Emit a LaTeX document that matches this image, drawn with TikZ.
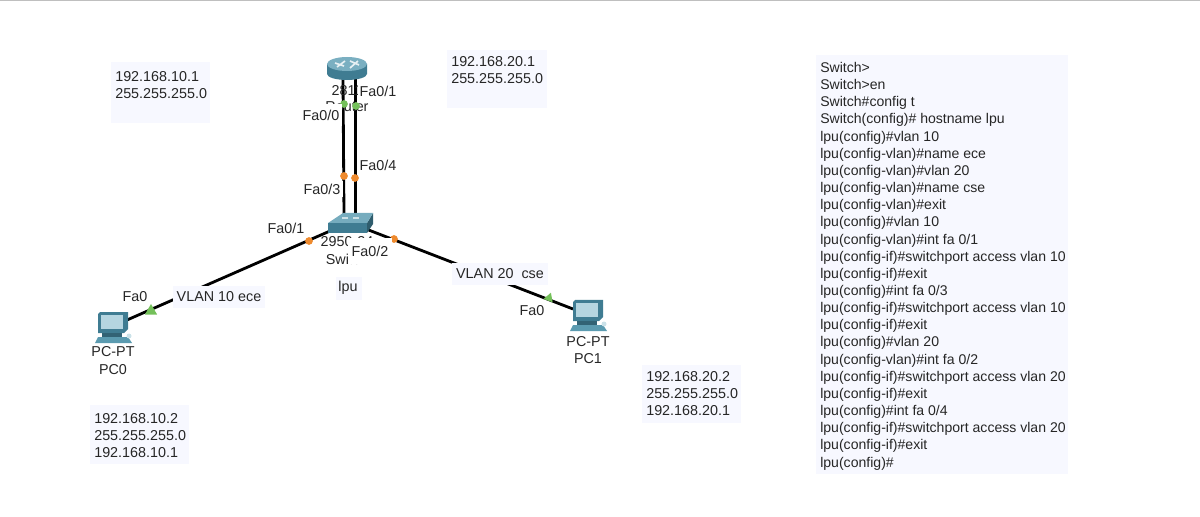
\documentclass[tikz,border=0pt]{standalone}
\usepackage{fontspec}
\setmainfont{Liberation Sans}
\usetikzlibrary{shapes.geometric}
\definecolor{panelblue}{HTML}{F7F8FF}
\definecolor{txtgrey}{HTML}{262626}
\definecolor{iconblue}{HTML}{5B9BB0}
\definecolor{icondark}{HTML}{3F7C92}
\definecolor{iconlight}{HTML}{B5D5E0}
\definecolor{portorange}{HTML}{EE8A2E}
\definecolor{portgreen}{HTML}{74C05A}
\tikzset{
  pc icon/.pic={
    \fill[icondark] (2,0) -- (30,0) -- (30,17) -- (26,21) -- (0,21) -- (0,2) -- cycle;
    \fill[iconlight] (3,3) rectangle (25,17);
    \fill[icondark!80!black] (4,21) rectangle (24,25);
    \fill[iconblue] (0,25) -- (30,25) -- (34,31) -- (-3,31) -- cycle;
    \fill[iconlight!70] (31,24) circle (2.5);
  },
  router icon/.pic={
    \fill[icondark] (-20,-4) -- (20,-4) -- (20,6) arc[start angle=0,end angle=180,x radius=20,y radius=6] -- cycle;
    \fill[iconblue!65!iconlight] (0,-4) ellipse[x radius=20,y radius=7];
    \draw[white!85!iconblue,line width=1.2] (-12,-5) -- (-3,-2) (3,-7) -- (12,-3) (-10,-1) -- (-2,-7) (3,0) -- (11,-7);
  },
  switch icon/.pic={
    \fill[icondark] (0,0) rectangle (39,10);
    \fill[icondark!75!black] (39,0) -- (45,-10) -- (45,1) -- (39,10) -- cycle;
    \fill[iconblue!70!iconlight] (0,0) -- (15,-10) -- (45,-10) -- (39,0) -- cycle;
    \draw[white!70!iconblue,line width=.8] (14,-5) -- (20,-5) (25,-5) -- (31,-5);
  }
}
\begin{document}
\begin{tikzpicture}[x=0.025cm,y=-0.025cm,
    font=\fontsize{10.2pt}{12.2pt}\selectfont,
    lbl/.style={text=txtgrey, inner sep=1pt},
    port lbl/.style={lbl, fill=white, inner sep=2pt},
    vlan lbl/.style={lbl, fill=panelblue, inner xsep=3pt, inner ysep=4pt},
    note/.style={lbl, anchor=north west, align=left, inner sep=0pt},
    panel/.style={fill=panelblue},
    link/.style={draw=black, line width=2pt},
    port dot/.style={circle, fill=#1, inner sep=0pt, minimum size=5.5pt},
    port tri/.style={regular polygon, regular polygon sides=3, fill=portgreen, inner sep=0pt, minimum size=#1}]
  \useasboundingbox (0,0) rectangle (1200,517);
  \draw[black!25] (0,0.5) -- (1200,0.5);

  % address panels
  \fill[panel] (111,62) rectangle (210,123);
  \fill[panel] (447,50) rectangle (547,108);
  \fill[panel] (90,405) rectangle (189,464);
  \fill[panel] (642,365) rectangle (741,423);
  \fill[panel] (816,55) rectangle (1068,474);
  \fill[panel] (336,277) rectangle (362,300);

  % ports
  \coordinate (r0) at (343,78);
  \coordinate (r1) at (355.5,78);
  \coordinate (s3) at (344,216);
  \coordinate (s4) at (355.5,216);
  \coordinate (s1) at (330,231);
  \coordinate (s2) at (366,229);
  \coordinate (p0) at (127,320);
  \coordinate (p1) at (573,309);

  \path[link] (r0) edge (s3)
    (r1) edge (s4)
    (s1) edge (p0)
    (s2) edge (p1);

  % devices
  \pic at (347,68) {router icon};
  \pic at (328,223) {switch icon};
  \pic at (98,312) {pc icon};
  \pic at (573,300) {pc icon};

  \node[lbl] (routermodel) at (347,91) {2811};
  \node[lbl] (routername) at (347,107) {Router};
  \node[lbl] (switchmodel) at (347,242) {2950-24};
  \node[lbl] (switchname) at (347,259) {Switch};
  \node[lbl, align=center] (pc0name) at (113,360.5) {PC-PT\\PC0};
  \node[lbl, align=center] (pc1name) at (588,350) {PC-PT\\PC1};
  \node[lbl] (hostname) at (348,288) {lpu};

  % port markers
  \node[port dot=portgreen] (g0) at (344,104) {};
  \node[port dot=portgreen] (g1) at (356,106) {};
  \node[port dot=portorange] (o3) at (344,176) {};
  \node[port dot=portorange] (o4) at (355,178) {};
  \node[port dot=portorange] (o1) at (309,241) {};
  \node[port dot=portorange] (o2) at (394,239) {};
  \node[port tri=10pt] (t0) at (151,311) {};
  \node[port tri=8pt, rotate=-20] (t1) at (549,298) {};

  % link labels
  \node[port lbl, minimum height=0.55cm] (fa00) at (321,115) {Fa0/0};
  \node[port lbl, inner xsep=1pt] (fa01r) at (378,91) {Fa0/1};
  \node[port lbl, inner xsep=1pt] (fa04) at (378,165) {Fa0/4};
  \node[port lbl] (fa03) at (322,189) {Fa0/3};
  \node[port lbl] (fa01s) at (286,228) {Fa0/1};
  \node[port lbl, minimum width=1.12cm, minimum height=0.65cm] (fa02) at (370,251) {Fa0/2};
  \node[port lbl] (fa0l) at (135,297) {Fa0};
  \node[port lbl] (fa0r) at (532,311) {Fa0};
  \node[vlan lbl] (vlan10) at (219,297) {VLAN 10 ece};
  \node[vlan lbl] (vlan20) at (500,274) {VLAN 20\ \ cse};

  % address notes
  \node[note] (addr1) at (115,71.5) {192.168.10.1\\255.255.255.0};
  \node[note] (addr2) at (451,56.5) {192.168.20.1\\255.255.255.0};
  \node[note] (addr3) at (94,413) {192.168.10.2\\255.255.255.0\\192.168.10.1};
  \node[note] (addr4) at (646,371) {192.168.20.2\\255.255.255.0\\192.168.20.1};

  \node[note, font=\fontsize{10pt}{12.2pt}\selectfont] (cli) at (820,62) {Switch>\\
    Switch>en\\
    Switch\#config t\\
    Switch(config)\# hostname lpu\\
    lpu(config)\#vlan 10\\
    lpu(config-vlan)\#name ece\\
    lpu(config-vlan)\#vlan 20\\
    lpu(config-vlan)\#name cse\\
    lpu(config-vlan)\#exit\\
    lpu(config)\#vlan 10\\
    lpu(config-vlan)\#int fa 0/1\\
    lpu(config-if)\#switchport access vlan 10\\
    lpu(config-if)\#exit\\
    lpu(config)\#int fa 0/3\\
    lpu(config-if)\#switchport access vlan 10\\
    lpu(config-if)\#exit\\
    lpu(config)\#vlan 20\\
    lpu(config-vlan)\#int fa 0/2\\
    lpu(config-if)\#switchport access vlan 20\\
    lpu(config-if)\#exit\\
    lpu(config)\#int fa 0/4\\
    lpu(config-if)\#switchport access vlan 20\\
    lpu(config-if)\#exit\\
    lpu(config)\#};
\end{tikzpicture}
\end{document}
